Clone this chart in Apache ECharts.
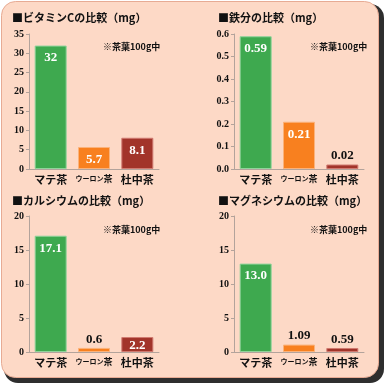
<!DOCTYPE html>
<html><head><meta charset="utf-8">
<script src="https://cdn.jsdelivr.net/npm/echarts@6/dist/echarts.min.js"></script>
<style>html,body{margin:0;padding:0;background:#fff}#c{width:385px;height:384px}</style>
</head><body><div id="c"></div>
<script>
const categories = ['マテ茶', 'ウーロン茶', '杜中茶'];
const vitaminC = [32, 5.7, 8.1];
const iron = [0.59, 0.21, 0.02];
const calcium = [17.1, 0.6, 2.2];
const magnesium = [13.0, 1.09, 0.59];
const labelsVitC = ['32', '5.7', '8.1'];
const labelsIron = ['0.59', '0.21', '0.02'];
const labelsCa = ['17.1', '0.6', '2.2'];
const labelsMg = ['13.0', '1.09', '0.59'];
const titles = ['■ビタミンCの比較（mg）', '■鉄分の比較（mg）', '■カルシウムの比較（mg）', '■マグネシウムの比較（mg）'];
const note = '※茶葉100g中';

const colors = ['#3ea94f', '#f8801f', '#a2342a'];
const borders = ['#8fd49a', '#fbb27a', '#d07a70'];
const SERIF = '"Liberation Serif","Noto Sans CJK JP",serif';
const JP = '"Noto Sans CJK JP",sans-serif';

const panels = [
  {vals: vitaminC, labs: labelsVitC, max: 35, interval: 5, dec: 0, left: 29, top: 34, h: 135, inside: [true, true, true]},
  {vals: iron, labs: labelsIron, max: 0.6, interval: 0.1, dec: 1, left: 234, top: 34, h: 135, inside: [true, true, false]},
  {vals: calcium, labs: labelsCa, max: 20, interval: 5, dec: 0, left: 29, top: 216, h: 136, inside: [true, false, true]},
  {vals: magnesium, labs: labelsMg, max: 20, interval: 5, dec: 0, left: 234, top: 216, h: 136, inside: [true, false, false]}
];
const titlePos = [[12, 12], [218, 12], [12, 195], [218, 195]];
const notePos = [[103, 42], [310, 42], [103, 225], [310, 225]];

const grid = [], xAxis = [], yAxis = [], series = [];
panels.forEach((p, i) => {
  grid.push({left: p.left, top: p.top, width: 130, height: p.h, containLabel: false});
  xAxis.push({
    type: 'category', gridIndex: i, data: categories,
    axisLine: {lineStyle: {color: '#b3a39b', width: 1}},
    axisTick: {show: false},
    axisLabel: {
      color: '#111', fontWeight: 'bold', fontFamily: JP, margin: 5, interval: 0,
      formatter: v => v === 'ウーロン茶' ? '{s|ウーロン}{m|茶}' : '{b|' + v + '}',
      rich: {
        b: {fontSize: 11, fontWeight: 'bold', fontFamily: JP, color: '#111'},
        s: {fontSize: 7, fontWeight: 'bold', fontFamily: JP, color: '#111'},
        m: {fontSize: 9, fontWeight: 'bold', fontFamily: JP, color: '#111'}
      }
    }
  });
  yAxis.push({
    type: 'value', gridIndex: i, min: 0, max: p.max, interval: p.interval,
    axisLine: {show: true, lineStyle: {color: '#b3a39b'}},
    axisTick: {show: true, length: 3, lineStyle: {color: '#b3a39b'}},
    splitLine: {show: false},
    axisLabel: {color: '#111', fontWeight: 'bold', fontFamily: SERIF, fontSize: 10, margin: 5,
      formatter: v => v.toFixed(p.dec)}
  });
  series.push({
    type: 'bar', xAxisIndex: i, yAxisIndex: i, barWidth: 32,
    data: p.vals.map((v, k) => ({
      value: v,
      itemStyle: {color: colors[k], borderColor: borders[k], borderWidth: 1},
      label: {
        show: true, formatter: p.labs[k],
        position: p.inside[k] ? 'insideTop' : 'top',
        distance: p.inside[k] ? (v / p.max < 0.15 ? 2 : 6) : 2,
        color: p.inside[k] ? '#fff' : '#111',
        fontFamily: SERIF, fontWeight: 'bold', fontSize: 13
      }
    }))
  });
});

const graphic = [
  {type: 'rect', z: -10, shape: {x: 4, y: 4, width: 380, height: 379, r: 14}, style: {fill: '#2e2e2e'}},
  {type: 'rect', z: -9, shape: {x: 1.5, y: 1.5, width: 377, height: 376, r: 14}, style: {fill: '#fdd9c6', stroke: '#e7ab94', lineWidth: 1}}
];
titles.forEach((t, i) => graphic.push({type: 'text', x: titlePos[i][0], y: titlePos[i][1],
  style: {text: t, fill: '#111', font: 'bold 11px ' + JP}}));
notePos.forEach(p => graphic.push({type: 'text', x: p[0], y: p[1],
  style: {text: note, fill: '#111', font: 'bold 9px ' + JP}}));

const chart = echarts.init(document.getElementById('c'), null, {renderer: 'canvas'});
chart.setOption({animation: false, backgroundColor: '#fff', grid, xAxis, yAxis, series, graphic});
</script></body></html>
